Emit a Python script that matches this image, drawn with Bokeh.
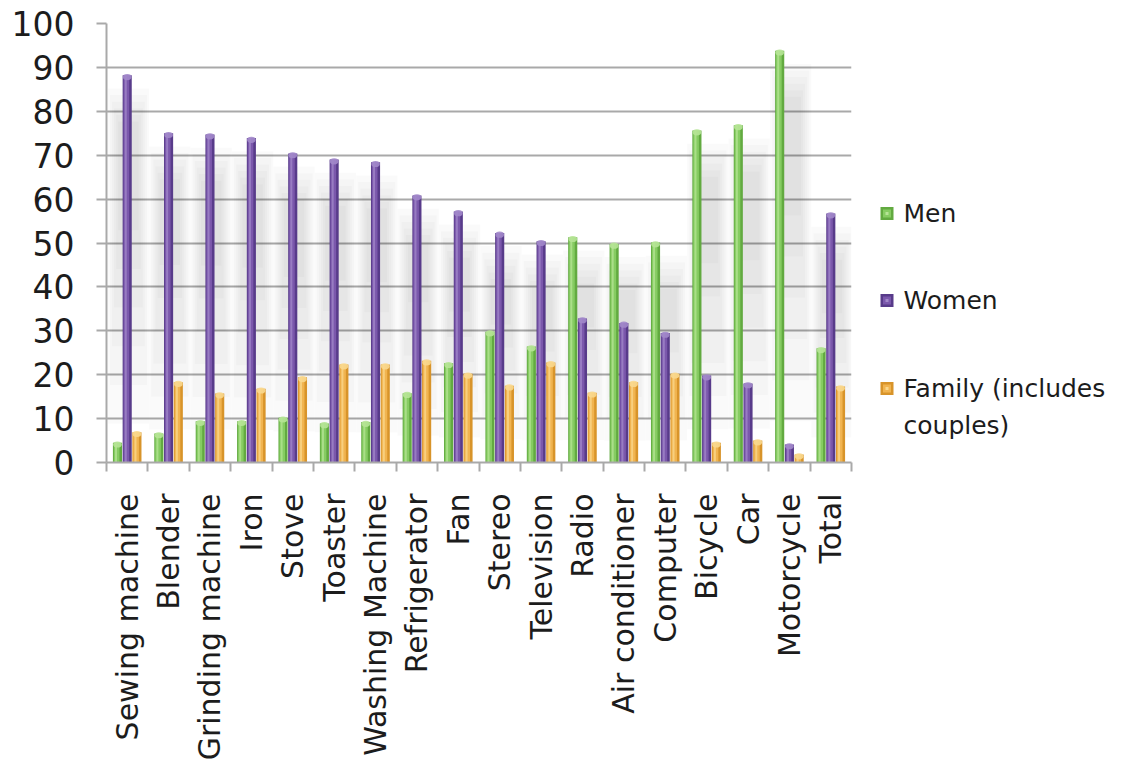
import numpy as np
from bokeh.plotting import figure
from bokeh.layouts import row
from bokeh.models import Range1d, FixedTicker, ColumnDataSource
from bokeh.core.properties import value
from bokeh.embed import file_html
from bokeh.resources import INLINE

# Ownership share (%) of household items by owner group
categories = ["Sewing machine", "Blender", "Grinding machine", "Iron", "Stove",
              "Toaster", "Washing Machine", "Refrigerator", "Fan", "Stereo",
              "Television", "Radio", "Air conditioner", "Computer", "Bicycle",
              "Car", "Motorcycle", "Total"]
men = [4.5, 6.6, 9.4, 9.4, 10.2, 8.9, 9.2, 15.8, 22.6, 29.8,
       26.4, 51.3, 49.8, 50.1, 75.6, 76.8, 93.8, 26.0]
women = [88.2, 75.0, 74.7, 73.9, 70.4, 69.0, 68.4, 60.8, 57.2, 52.3,
         50.4, 32.8, 31.8, 29.5, 19.8, 18.0, 4.1, 56.7]
family = [6.9, 18.3, 15.7, 16.8, 19.4, 22.3, 22.3, 23.2, 20.2, 17.5,
          22.8, 15.9, 18.3, 20.2, 4.5, 5.0, 1.8, 17.3]
series_names = ["Men", "Women", "Family (includes\ncouples)"]
y_ticks = list(range(0, 101, 10))

FONT = "DejaVu Sans"
TEXT = "#1c1c1c"
GRID = "#a9a9a9"

# (edge, body, highlight) tones for the cylinder look
palettes = [
    ("#62aa40", "#86cc62", "#b6e496"),
    ("#583b8a", "#7b58ac", "#a288ca"),
    ("#d8942a", "#f1b450", "#fad88e"),
]

n = len(categories)
xc = np.arange(n)

p = figure(width=860, height=763, output_backend="svg", toolbar_location=None,
           x_range=Range1d(-0.5, n - 0.5), y_range=Range1d(0, 100),
           min_border_left=106, min_border_right=9, min_border_top=23,
           min_border_bottom=301)
p.outline_line_color = None
p.background_fill_color = "white"
p.border_fill_color = "white"

# horizontal gridlines
p.xgrid.grid_line_color = None
p.ygrid.ticker = FixedTicker(ticks=y_ticks)
p.ygrid.grid_line_color = GRID
p.ygrid.grid_line_width = 2

# soft grey shadow behind each group of bars
tops = np.maximum(np.maximum(men, women), family)
for k in range(6):
    p.vbar(x=xc + 0.03, width=1.0 - 0.1 * k,
           bottom=tops * (0.1 + 0.1 * k), top=tops - 3 - 1.5 * k,
           fill_color="black", fill_alpha=0.018, line_color=None)

bar_w = 0.22
offsets = [-0.235, 0.0, 0.235]
for vals, off, (edge, body, hi) in zip([men, women, family], offsets, palettes):
    src = ColumnDataSource(dict(x=xc + off, top=vals))
    p.vbar(x="x", top="top", width=bar_w, source=src,
           fill_color=edge, line_color=None)
    p.vbar(x=xc + off - 0.02, top=vals, width=bar_w * 0.62,
           fill_color=body, line_color=None)
    p.vbar(x=xc + off - 0.035, top=vals, width=bar_w * 0.22,
           fill_color=hi, fill_alpha=0.75, line_color=None)
    # rounded lighter cap at the top of each cylinder
    p.ellipse(x=xc + off, y=np.array(vals) - 0.4, width=bar_w * 0.95, height=1.4,
              fill_color=hi, line_color=None, fill_alpha=0.9)

# y axis
p.yaxis.ticker = FixedTicker(ticks=y_ticks)
p.yaxis.axis_line_color = GRID
p.yaxis.axis_line_width = 2
p.yaxis.major_tick_line_color = GRID
p.yaxis.major_tick_line_width = 2
p.yaxis.major_tick_out = 10
p.yaxis.major_tick_in = 0
p.yaxis.minor_tick_line_color = None
p.yaxis.major_label_standoff = 22
p.yaxis.major_label_text_font = FONT
p.yaxis.major_label_text_font_size = "33px"
p.yaxis.major_label_text_color = TEXT

# x axis: names at centres, tick marks at the category boundaries
p.xaxis.ticker = FixedTicker(ticks=list(xc), minor_ticks=list(np.arange(n + 1) - 0.5))
p.xaxis.major_label_overrides = {int(i): c for i, c in zip(xc, categories)}
p.xaxis.major_label_orientation = np.pi / 2
p.xaxis.axis_line_color = GRID
p.xaxis.axis_line_width = 2
p.xaxis.major_tick_line_color = None
p.xaxis.minor_tick_line_color = GRID
p.xaxis.minor_tick_line_width = 2
p.xaxis.minor_tick_out = 9
p.xaxis.minor_tick_in = 0
p.xaxis.major_label_standoff = 22
p.xaxis.major_label_text_font = FONT
p.xaxis.major_label_text_font_size = "30px"
p.xaxis.major_label_text_color = TEXT

# legend panel; its frame lines up with the chart frame, units are pixels
lg = figure(width=266, height=763, output_backend="svg", toolbar_location=None,
            x_range=Range1d(0, 266), y_range=Range1d(462, 23),
            min_border=0, min_border_left=0, min_border_right=0,
            min_border_top=23, min_border_bottom=301)
lg.axis.visible = False
lg.grid.visible = False
lg.outline_line_color = None
lg.border_fill_color = "white"

item_y = [213, 300, 388]
line_gap = 37
for (edge, body, hi), yy in zip(palettes, item_y):
    lg.rect(x=[26.5], y=[yy], width=13, height=13, fill_color=edge, line_color=None)
    lg.rect(x=[26.5], y=[yy], width=8, height=8, fill_color=body, line_color=None)
    lg.rect(x=[26.5], y=[yy], width=3, height=3, fill_color=hi, line_color=None)
for name, yy in zip(series_names, item_y):
    lines = name.split("\n")
    lg.text(x=[43] * len(lines), y=[yy + i * line_gap for i in range(len(lines))],
            text=lines, text_font=value(FONT), text_font_size="25px",
            text_color=TEXT, text_baseline="middle")

layout = row(p, lg)
open("out.html", "w").write(file_html(layout, INLINE))
